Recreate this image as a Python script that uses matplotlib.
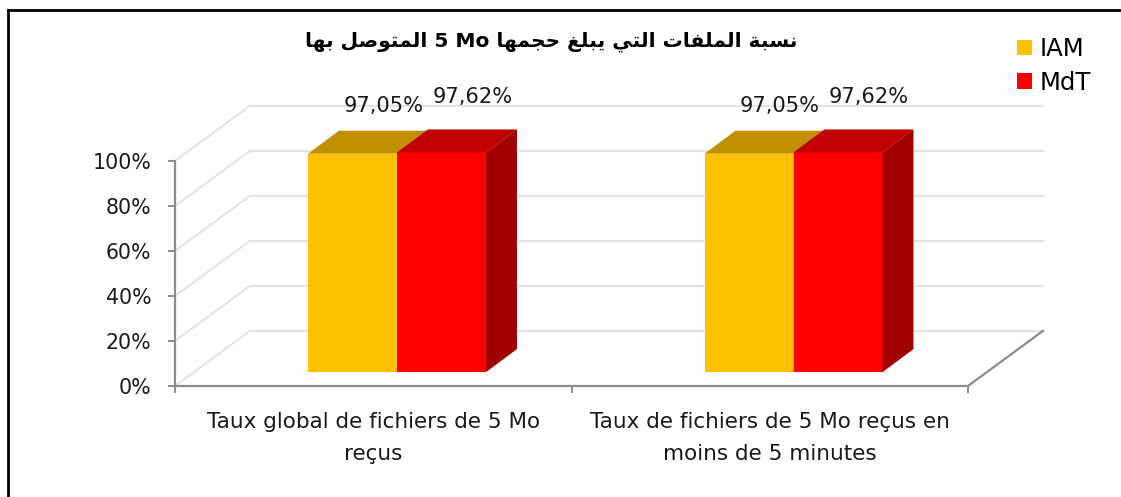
import matplotlib
matplotlib.use('Agg')
import matplotlib.pyplot as plt
from matplotlib.patches import Polygon
from matplotlib.lines import Line2D

categories = ['Taux global de fichiers de 5 Mo\nreçus',
              'Taux de fichiers de 5 Mo reçus en\nmoins de 5 minutes']
series = ['IAM', 'MdT']
iam = [97.05, 97.05]
mdt = [97.62, 97.62]
value_labels = [['97,05%', '97,05%'], ['97,62%', '97,62%']]
yticks = [0, 20, 40, 60, 80, 100]
title_words = ['نسبة', 'الملفات', 'التي', 'يبلغ', 'حجمها', '5 Mo', 'المتوصل', 'بها']

face = ['#FFC000', '#FF0000']
top = ['#C09000', '#C00000']
side = ['#A07800', '#A00000']

# arabic letters -> (isolated, final, initial, medial)
FORMS = {
    'ا': ('\uFE8D', '\uFE8E', None, None),
    'ب': ('\uFE8F', '\uFE90', '\uFE91', '\uFE92'),
    'ة': ('\uFE93', '\uFE94', None, None),
    'ت': ('\uFE95', '\uFE96', '\uFE97', '\uFE98'),
    'ج': ('\uFE9D', '\uFE9E', '\uFE9F', '\uFEA0'),
    'ح': ('\uFEA1', '\uFEA2', '\uFEA3', '\uFEA4'),
    'س': ('\uFEB1', '\uFEB2', '\uFEB3', '\uFEB4'),
    'ص': ('\uFEB9', '\uFEBA', '\uFEBB', '\uFEBC'),
    'غ': ('\uFECD', '\uFECE', '\uFECF', '\uFED0'),
    'ف': ('\uFED1', '\uFED2', '\uFED3', '\uFED4'),
    'ل': ('\uFEDD', '\uFEDE', '\uFEDF', '\uFEE0'),
    'م': ('\uFEE1', '\uFEE2', '\uFEE3', '\uFEE4'),
    'ن': ('\uFEE5', '\uFEE6', '\uFEE7', '\uFEE8'),
    'ه': ('\uFEE9', '\uFEEA', '\uFEEB', '\uFEEC'),
    'و': ('\uFEED', '\uFEEE', None, None),
    'ي': ('\uFEF1', '\uFEF2', '\uFEF3', '\uFEF4'),
}


def shape(word):
    # join letters and flip to visual order (no bidi in matplotlib)
    if word[0] not in FORMS:
        return word
    out = []
    for i, c in enumerate(word):
        f = FORMS[c]
        jp = i > 0 and FORMS[word[i - 1]][2] is not None
        jn = f[2] is not None and i < len(word) - 1
        if jp and jn:
            g = f[3]
        elif jp:
            g = f[1]
        elif jn:
            g = f[2]
        else:
            g = f[0]
        out.append(g)
    return ''.join(reversed(out))


title = ' '.join(shape(w) for w in reversed(title_words))

plt.rcParams['font.family'] = ['DejaVu Sans']
fig = plt.figure(figsize=(11.21, 4.97), dpi=100)
ax = fig.add_axes([175 / 1121, 111 / 497, 872.3 / 1121, 283.5 / 497])
ax.set_xlim(-0.5, 1.7)
ax.set_ylim(0, 126)

# depth offsets (data units)
dxw, dyw = 0.189, 24.5     # walls
dxb, dyb = 0.06, 6.2       # bar front face shift
dxd, dyd = 0.078, 10.2     # bar depth
w = 0.2245

grid = '#E3E3E3'
axc = '#8C8C8C'
txt = '#1a1a1a'
for v in yticks:
    ax.plot([-0.5 + dxw, 1.5 + dxw], [v + dyw, v + dyw], color=grid, lw=1.6, zorder=1)
    ax.plot([-0.5, -0.5 + dxw], [v, v + dyw], color=grid, lw=1.4, zorder=1)
ax.plot([1.5, 1.5 + dxw], [0, dyw], color=axc, lw=1.6, zorder=2, clip_on=False)

x = [0, 1]
for s, vals in enumerate([iam, mdt]):
    pos = [c + dxb + (s - 0.5) * w for c in x]
    ax.bar(pos, vals, w, bottom=dyb, color=face[s], zorder=3 + s, label=series[s])
    for p, v in zip(pos, vals):
        x0, x1, yt = p - w / 2, p + w / 2, v + dyb
        ax.add_patch(Polygon([(x0, yt), (x1, yt), (x1 + dxd, yt + dyd), (x0 + dxd, yt + dyd)],
                             closed=True, color=top[s], lw=0, zorder=3 + s))
        ax.add_patch(Polygon([(x1, dyb), (x1, yt), (x1 + dxd, yt + dyd), (x1 + dxd, dyb + dyd)],
                             closed=True, color=side[s], lw=0, zorder=3 + s))
    lift = [11.0, 14.4][s]
    for p, v, lab in zip(pos, vals, value_labels[s]):
        ax.text(p + dxd, v + dyb + dyd + lift, lab, ha='center', va='center',
                fontsize=15.1, color=txt)

for sp in ['top', 'right']:
    ax.spines[sp].set_visible(False)
ax.spines['left'].set_bounds(0, 100)
ax.spines['bottom'].set_bounds(-0.5, 1.5)
for sp in ['left', 'bottom']:
    ax.spines[sp].set_color(axc)
    ax.spines[sp].set_linewidth(1.6)
    ax.spines[sp].set_zorder(2)

ax.set_yticks(yticks, [f'{v}%' for v in yticks])
ax.set_xticks([-0.5, 0.5, 1.5], ['', '', ''])
ax.set_xticks(x, categories, minor=True)
ax.tick_params(axis='y', length=5, width=1.4, color=axc, pad=12, labelsize=14.8, labelcolor=txt)
ax.tick_params(axis='x', which='major', length=5, width=1.4, color=axc)
ax.tick_params(axis='x', which='minor', length=0, pad=19, labelsize=15.5, labelcolor=txt)
for t in ax.get_xticklabels(minor=True):
    t.set_linespacing(1.75)
ax.patch.set_alpha(0)

fig.text(551 / 1121, 1 - 42 / 497, title, ha='center', va='center',
         fontsize=14.5, fontweight='bold', color='black')

fig.legend(loc='upper left', bbox_to_anchor=(1017 / 1121, 1 - 37 / 497), frameon=False,
           fontsize=17.5, handlelength=0.62, handleheight=0.62, handletextpad=0.3,
           labelspacing=0.4, borderaxespad=0, borderpad=0)

# outer frame (partly off the picture)
fig.add_artist(Line2D([8 / 1121, 1], [1 - 10 / 497, 1 - 10 / 497], color='black', lw=2))
fig.add_artist(Line2D([8 / 1121, 8 / 1121], [0, 1 - 10 / 497], color='black', lw=2))

fig.savefig('out.png', dpi=100)
